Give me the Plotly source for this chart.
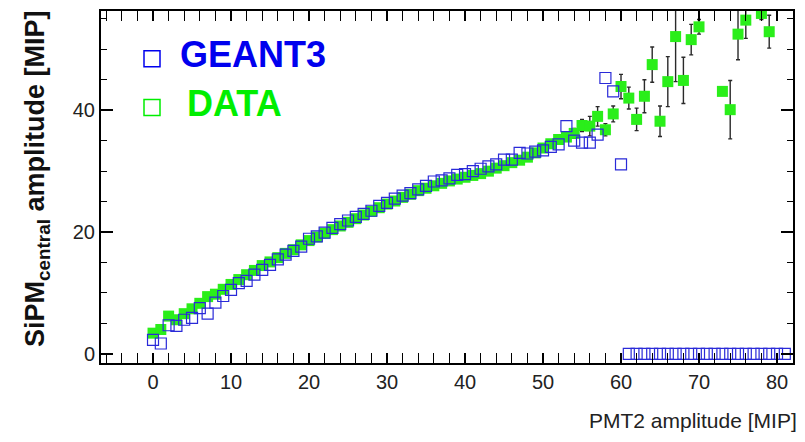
import plotly.graph_objects as go

# ---------------- data ----------------
geant_x = list(range(0, 82))
geant_y = [2.3, 1.7, 4.7, 4.6, 5.6, 5.9, 7.5, 6.6, 8.4, 9.5,
           10.5, 11.6, 12.0, 13.0, 13.8, 14.6, 15.5, 16.3, 16.9, 17.6,
           18.9, 19.3, 19.9, 20.7, 21.3, 21.9, 22.5, 23.0, 23.5, 24.3,
           24.8, 25.5, 26.0, 26.4, 27.0, 27.6, 28.3, 28.5, 28.8, 29.4,
           29.5, 30.0, 30.4, 30.8, 31.1, 31.9, 31.9, 33.0, 32.9, 33.2,
           33.4, 34.0, 34.4, 37.4, 35.0, 34.7, 34.7, 36.0, 45.3, 43.1,
           31.1, 0, 0, 0, 0, 0, 0, 0, 0, 0,
           0, 0, 0, 0, 0, 0, 0, 0, 0, 0,
           0, 0]

data_x = list(range(0, 71)) + [73, 74, 75, 76, 78, 79]
data_y = [3.4, 4.0, 6.2, 5.6, 6.6, 7.4, 8.3, 9.4, 9.8, 10.6,
          11.4, 12.2, 13.0, 13.7, 14.5, 15.1, 15.8, 16.5, 17.1, 17.9,
          18.6, 19.2, 19.8, 20.4, 21.0, 21.6, 22.2, 22.8, 23.4, 24.0,
          24.6, 25.1, 25.7, 26.2, 26.8, 27.2, 27.6, 28.0, 28.4, 28.7,
          29.0, 29.3, 29.6, 30.0, 30.5, 30.9, 31.4, 31.8, 32.3, 33.0,
          33.8, 34.5, 35.2, 35.6, 36.2, 37.5, 37.4, 39.0, 36.8, 39.4,
          43.9, 42.0, 38.5, 42.3, 47.5, 38.2, 44.7, 52.1, 44.9, 51.6,
          53.7, 43.1, 40.1, 52.5, 54.8, 55.9, 52.9]
data_err = [0.2] * 50 + [0.4, 0.5, 0.6, 0.7, 0.8, 1.0, 1.6, 1.6, 1.0, 1.3,
                         2.0, 1.8, 1.85, 2.7, 2.9, 2.5, 4.1, 7.4, 3.8, 2.5,
                         1.2, 0.3, 4.8, 4.2, 3.0, 1.0, 2.7]

x_ticks = [0, 10, 20, 30, 40, 50, 60, 70, 80]
y_ticks = [0, 20, 40]

legend_names = ["GEANT3", "DATA"]
legend_colors = ["#0000ee", "#00ee00"]

# ---------------- layout geometry ----------------
W, H = 805, 442
L, R, T, B = 101, 12, 9, 79
PW, PH = W - L - R, H - T - B
X_RANGE = [-6.67, 82.05]
Y_RANGE = [-1.5, 56.3]


def px(x):
    return (x - L) / PW


def py(y):
    return 1 - (y - T) / PH


fig = go.Figure()

fig.add_trace(go.Scatter(
    x=data_x, y=data_y, mode="markers", name="DATA",
    marker=dict(symbol="square", size=11, color="#2aee1a", line=dict(width=0)),
    error_y=dict(type="data", array=data_err, visible=True, color="#2a2a2a",
                 thickness=1.4, width=2),
))
fig.add_trace(go.Scatter(
    x=geant_x, y=geant_y, mode="markers", name="GEANT3",
    marker=dict(symbol="square-open", size=11, color="#2a2ad8",
                line=dict(width=1.2, color="#2a2ad8")),
))
# empty trace so that the right-hand tick axis is drawn
fig.add_trace(go.Scatter(x=[], y=[], yaxis="y2", hoverinfo="skip", showlegend=False))

axis_common = dict(
    showline=True, linecolor="black", linewidth=2, mirror="allticks",
    ticks="inside", tickcolor="black", tickwidth=1.5,
    showgrid=False, zeroline=False,
    tickfont=dict(family="Liberation Sans, Arial", size=20, color="#222222"),
)

fig.update_xaxes(range=X_RANGE, tickvals=x_ticks, ticklen=10,
                 minor=dict(dtick=2, ticklen=5, ticks="inside", tickcolor="black",
                            tickwidth=1.3),
                 ticklabelstandoff=0, **axis_common)
fig.update_yaxes(range=Y_RANGE, tickvals=y_ticks, ticklen=12,
                 ticksuffix="\u00a0" * 5,
                 minor=dict(dtick=5, ticklen=6, ticks="inside", tickcolor="black",
                            tickwidth=1.3),
                 **axis_common)

shapes = []
annotations = []
# manual legend
for i, (name, col) in enumerate(zip(legend_names, legend_colors)):
    cy = 57 + i * 49
    shapes.append(dict(type="rect", xref="paper", yref="paper",
                       x0=px(144), x1=px(160), y0=py(cy + 8), y1=py(cy - 8),
                       line=dict(color=col, width=1.5)))
    annotations.append(dict(xref="paper", yref="paper", x=px(178 + 7 * i), y=py(cy - 4),
                            xanchor="left", yanchor="middle", showarrow=False,
                            text="<b>%s</b>" % name,
                            font=dict(family="Liberation Sans, Arial", size=36, color=col)))

annotations.append(dict(xref="paper", yref="paper", x=px(799), y=py(421),
                        xanchor="right", yanchor="middle", showarrow=False,
                        text="PMT2 amplitude [MIP]",
                        font=dict(family="Liberation Sans, Arial", size=21, color="#222222")))
annotations.append(dict(xref="paper", yref="paper", x=px(37), y=py(178),
                        xanchor="center", yanchor="middle", showarrow=False, textangle=-90,
                        text="<b>SiPM<sub>central</sub> amplitude [MIP]</b>",
                        font=dict(family="Liberation Sans, Arial", size=27, color="#111111")))

fig.update_layout(
    width=W, height=H, margin=dict(l=L, r=R, t=T, b=B),
    paper_bgcolor="white", plot_bgcolor="white", showlegend=False,
    shapes=shapes, annotations=annotations,
    yaxis2=dict(overlaying="y", side="right", range=Y_RANGE, tickvals=y_ticks,
                ticks="inside", ticklen=12, tickcolor="black", tickwidth=1.5,
                showticklabels=False, showgrid=False, zeroline=False, showline=False,
                minor=dict(dtick=5, ticklen=6, ticks="inside", tickcolor="black",
                           tickwidth=1.3)),
)

fig.write_html("out.html", config={"displayModeBar": False},
               post_script="document.body.style.margin='0';document.body.style.padding='0';")
